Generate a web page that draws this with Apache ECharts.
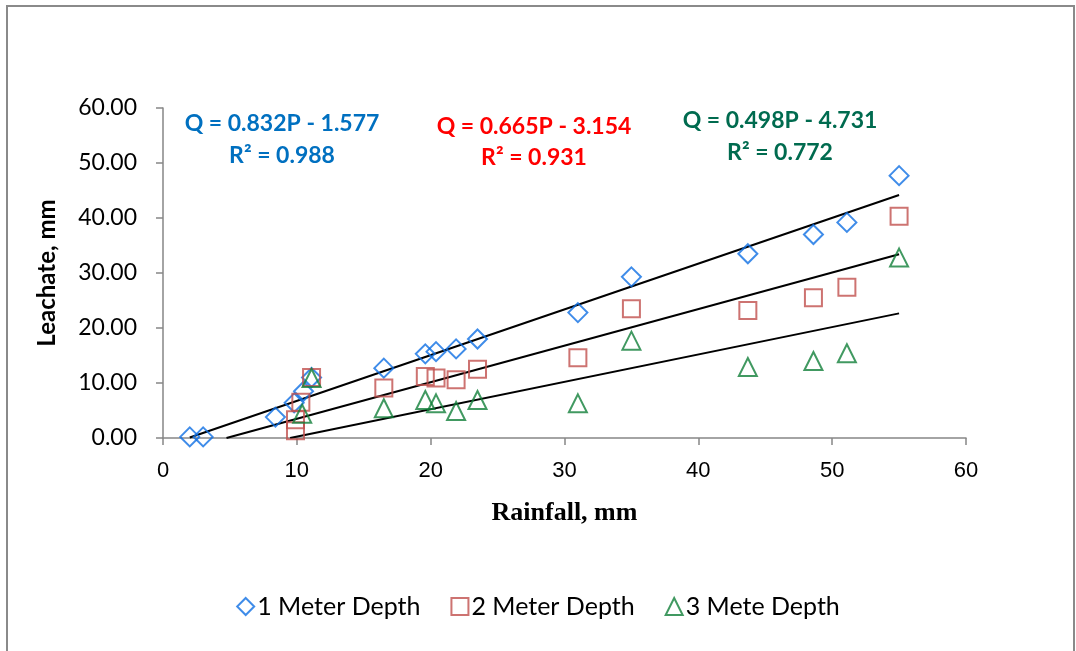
<!DOCTYPE html>
<html>
<head>
<meta charset="utf-8">
<script src="https://cdn.jsdelivr.net/npm/echarts@6/dist/echarts.min.js"></script>
<style>
  html, body { margin: 0; padding: 0; background: #ffffff; }
  #chart { width: 1076px; height: 651px; }
</style>
</head>
<body>
<div id="chart"></div>
<script>
// Rainfall (mm) and leachate (mm) for each lysimeter depth
const rain1m = [2, 3, 8.4, 9.8, 10.5, 11.1, 16.5, 19.6, 20.4, 21.9, 23.5, 31.0, 35.0, 43.7, 48.6, 51.1, 55.0];
const leach1m = [0.2, 0.2, 3.8, 6.4, 8.5, 11.0, 12.7, 15.3, 15.7, 16.2, 18.0, 22.8, 29.3, 33.5, 37.0, 39.2, 47.7];

const rain2m = [9.9, 9.9, 10.3, 11.1, 16.5, 19.6, 20.4, 21.9, 23.5, 31.0, 35.0, 43.7, 48.6, 51.1, 55.0];
const leach2m = [1.3, 3.3, 6.5, 11.0, 9.1, 11.2, 10.9, 10.6, 12.5, 14.6, 23.5, 23.2, 25.5, 27.4, 40.3];

const rain3m = [10.4, 11.1, 16.5, 19.6, 20.4, 21.9, 23.5, 31.0, 35.0, 43.7, 48.6, 51.1, 55.0];
const leach3m = [4.4, 10.9, 5.4, 6.9, 6.3, 4.9, 6.9, 6.3, 17.7, 12.9, 14.0, 15.4, 32.8];

// Linear fits Q = slope * P + intercept, with their R² values
const seriesNames = ['1 Meter Depth', '2 Meter Depth', '3 Mete Depth'];
const slopes = [0.832, 0.665, 0.498];
const intercepts = [-1.577, -3.154, -4.731];
const rSquared = [0.988, 0.931, 0.772];
const fitStart = 2;   // smallest rainfall in the data
const fitEnd = 55;    // largest rainfall in the data

// Axis ticks
const xTicks = { min: 0, max: 60, interval: 10 };
const yTicks = { min: 0, max: 60, interval: 10 };

const markerColors = ['#0f6fe3', '#c0504d', '#12803a'];
const labelColors = ['#0070c0', '#ff0000', '#006b4f'];
const symbols = ['diamond', 'rect', 'triangle'];
const symbolSizes = [19, 17, 18];

const pairs = (xs, ys) => xs.map((x, i) => [x, ys[i]]);
const scatterData = [pairs(rain1m, leach1m), pairs(rain2m, leach2m), pairs(rain3m, leach3m)];

// Fitted line, kept inside the visible range (Q >= 0)
function fitLine(k) {
  const m = slopes[k], b = intercepts[k];
  const x0 = Math.max(fitStart, -b / m);
  return [[x0, m * x0 + b], [fitEnd, m * fitEnd + b]];
}

const chart = echarts.init(document.getElementById('chart'), null, { renderer: 'canvas' });

const series = [];
for (let k = 0; k < 3; k++) {
  series.push({
    name: seriesNames[k],
    type: 'scatter',
    data: scatterData[k],
    symbol: symbols[k],
    symbolSize: symbolSizes[k],
    itemStyle: { color: 'rgba(255,255,255,0)', borderColor: markerColors[k], borderWidth: 2 },
    z: 3
  });
}
for (let k = 0; k < 3; k++) {
  series.push({
    name: 'fit' + k,
    type: 'line',
    data: fitLine(k),
    showSymbol: false,
    symbol: 'none',
    lineStyle: { color: '#000000', width: 2 },
    silent: true,
    z: 2
  });
}

// Equation labels
const eqPos = [[282, 124, 156], [534, 127, 158], [780, 121, 153]];
const eqFont = 'bold 23px Lato, "Liberation Sans", sans-serif';
const graphics = [
  {
    type: 'rect',
    shape: { x: 7, y: 6, width: 1067, height: 700 },
    style: { fill: 'none', stroke: '#8a8a8a', lineWidth: 2 },
    z: -1
  }
];
for (let k = 0; k < 3; k++) {
  const sign = intercepts[k] < 0 ? ' - ' : ' + ';
  graphics.push({
    type: 'text',
    x: eqPos[k][0], y: eqPos[k][1],
    style: {
      text: 'Q = ' + slopes[k].toFixed(3) + 'P' + sign + Math.abs(intercepts[k]).toFixed(3),
      font: eqFont, fill: labelColors[k], align: 'center', verticalAlign: 'middle'
    }
  });
  graphics.push({
    type: 'text',
    x: eqPos[k][0], y: eqPos[k][2],
    style: {
      text: 'R² = ' + rSquared[k].toFixed(3),
      font: eqFont, fill: labelColors[k], align: 'center', verticalAlign: 'middle'
    }
  });
}

chart.setOption({
  animation: false,
  backgroundColor: '#ffffff',
  grid: { left: 163, top: 108, width: 803, height: 330, containLabel: false },
  xAxis: {
    type: 'value',
    min: xTicks.min, max: xTicks.max, interval: xTicks.interval,
    name: 'Rainfall, mm',
    nameLocation: 'middle',
    nameGap: 62,
    nameTextStyle: { fontFamily: '"Liberation Serif", serif', fontWeight: 'bold', fontSize: 26, color: '#000' },
    axisLine: { show: true, lineStyle: { color: '#868686', width: 1.5 } },
    axisTick: { show: true, inside: false, length: 7, lineStyle: { color: '#868686', width: 1.5 } },
    axisLabel: { margin: 22, fontFamily: '"Liberation Sans Narrow", "Liberation Sans", sans-serif', fontSize: 22, color: '#000' },
    splitLine: { show: false }
  },
  yAxis: {
    type: 'value',
    min: yTicks.min, max: yTicks.max, interval: yTicks.interval,
    name: 'Leachate, mm',
    nameLocation: 'middle',
    nameGap: 104,
    nameTextStyle: { fontFamily: 'Lato, "Liberation Sans", sans-serif', fontWeight: 'bold', fontSize: 24, color: '#000' },
    axisLine: { show: true, lineStyle: { color: '#868686', width: 1.5 } },
    axisTick: { show: true, inside: false, length: 7, lineStyle: { color: '#868686', width: 1.5 } },
    axisLabel: {
      margin: 26, fontFamily: 'Lato, "Liberation Sans", sans-serif', fontSize: 23, color: '#000',
      formatter: v => v.toFixed(2)
    },
    splitLine: { show: false }
  },
  legend: {
    data: seriesNames.map((n, k) => ({
      name: n,
      icon: symbols[k],
      itemStyle: { color: 'rgba(255,255,255,0)', borderColor: markerColors[k], borderWidth: 2 }
    })),
    left: 'center',
    top: 589,
    itemWidth: 17,
    itemHeight: 17,
    itemGap: 30,
    textStyle: { fontFamily: 'Lato, "Liberation Sans", sans-serif', fontSize: 25, color: '#000', padding: [0, 0, 0, -2] }
  },
  graphic: graphics,
  series: series
});
</script>
</body>
</html>
